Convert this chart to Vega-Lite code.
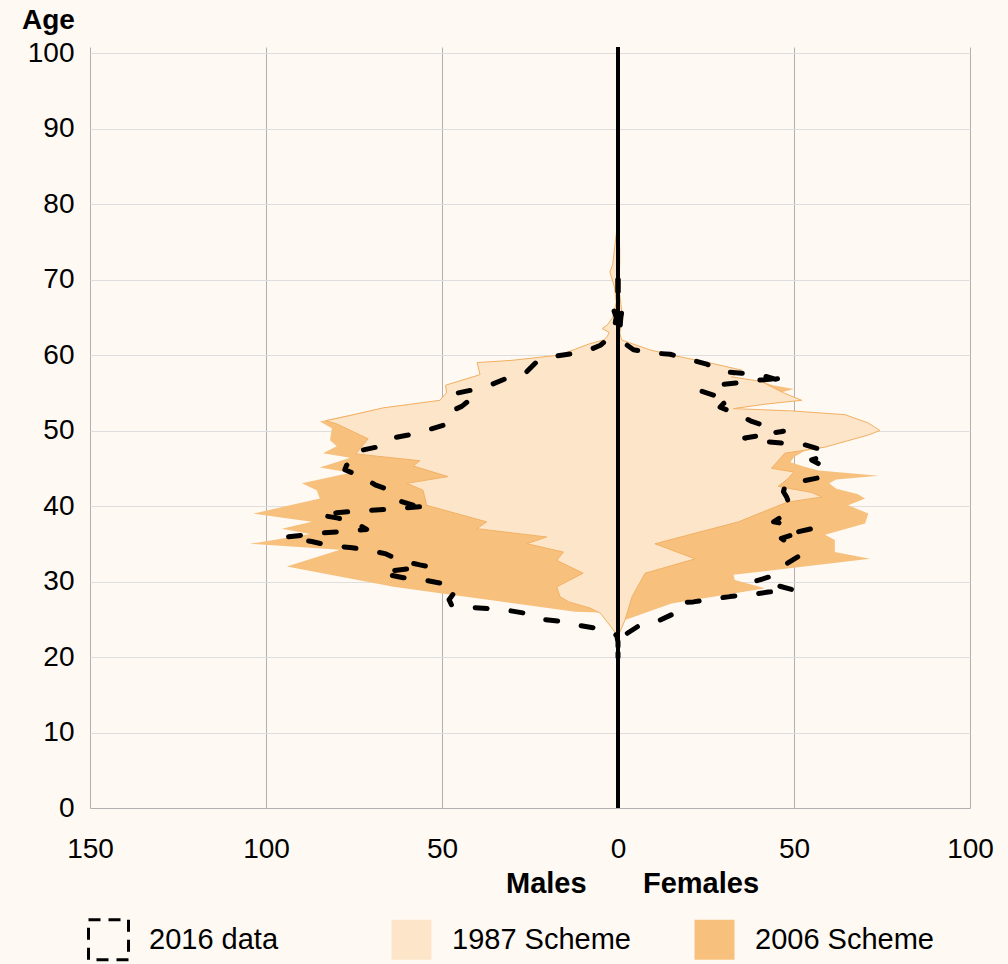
{
  "$schema": "https://vega.github.io/schema/vega-lite/v6.json",
  "width": 880,
  "height": 761,
  "autosize": "none",
  "padding": {"left": 90, "top": 47, "right": 38, "bottom": 156},
  "background": "#FEF9F3",
  "config": {
    "view": {"stroke": null},
    "font": "Liberation Sans",
    "axis": {"labelFont": "Liberation Sans", "titleFont": "Liberation Sans", "labelColor": "#000", "titleColor": "#000"},
    "axisY": {"titleAngle": 0, "titleFontWeight": "bold", "titleFontSize": 28, "titleX": -42, "titleY": -27, "titleAlign": "center", "titleBaseline": "middle", "labelFontSize": 28, "labelPadding": 16, "ticks": false, "domain": false, "gridColor": "#DEDEDE", "gridWidth": 1},
    "axisX": {"labelFlush": false, "labelOverlap": false, "labelBound": false, "labelFontSize": 28, "labelPadding": 27, "ticks": false, "domain": true, "domainColor": "#B0B0B0", "domainWidth": 1, "gridColor": "#B0B0B0", "gridWidth": 1, "titleFontSize": 29, "titleFontWeight": "bold", "titleX": 542, "titleY": 84, "titleAlign": "center", "titleBaseline": "alphabetic"},
    "legend": {"labelFont": "Liberation Sans"}
  },
  "datasets": {
    "pts": [
      {"s":"2006 Scheme","g":"M","a":78.8,"v":0},{"s":"2006 Scheme","g":"M","a":76,"v":-0.5},{"s":"2006 Scheme","g":"M","a":74,"v":-1},{"s":"2006 Scheme","g":"M","a":72,"v":-1.5},{"s":"2006 Scheme","g":"M","a":71,"v":-2.3},{"s":"2006 Scheme","g":"M","a":69,"v":-1},{"s":"2006 Scheme","g":"M","a":67,"v":-0.5},{"s":"2006 Scheme","g":"M","a":65,"v":-1.5},{"s":"2006 Scheme","g":"M","a":64,"v":-3},{"s":"2006 Scheme","g":"M","a":63.5,"v":-4.5},{"s":"2006 Scheme","g":"M","a":63,"v":-2.5},{"s":"2006 Scheme","g":"M","a":62.5,"v":-3},{"s":"2006 Scheme","g":"M","a":62,"v":-4},{"s":"2006 Scheme","g":"M","a":61.5,"v":-8},{"s":"2006 Scheme","g":"M","a":60.8,"v":-12},{"s":"2006 Scheme","g":"M","a":60,"v":-16.5},{"s":"2006 Scheme","g":"M","a":59.3,"v":-30},{"s":"2006 Scheme","g":"M","a":59,"v":-40},{"s":"2006 Scheme","g":"M","a":57.4,"v":-39.2},{"s":"2006 Scheme","g":"M","a":56,"v":-49},{"s":"2006 Scheme","g":"M","a":55,"v":-48.7},{"s":"2006 Scheme","g":"M","a":54,"v":-50.6},{"s":"2006 Scheme","g":"M","a":53,"v":-66.7},{"s":"2006 Scheme","g":"M","a":51.2,"v":-84.7},{"s":"2006 Scheme","g":"M","a":50.3,"v":-81.3},{"s":"2006 Scheme","g":"M","a":48.7,"v":-81.8},{"s":"2006 Scheme","g":"M","a":47.9,"v":-79.9},{"s":"2006 Scheme","g":"M","a":47,"v":-83.8},{"s":"2006 Scheme","g":"M","a":46.4,"v":-76.1},{"s":"2006 Scheme","g":"M","a":45.1,"v":-84.7},{"s":"2006 Scheme","g":"M","a":44.4,"v":-76},{"s":"2006 Scheme","g":"M","a":43,"v":-89.8},{"s":"2006 Scheme","g":"M","a":42.1,"v":-85.6},{"s":"2006 Scheme","g":"M","a":41,"v":-84.7},{"s":"2006 Scheme","g":"M","a":39,"v":-103.6},{"s":"2006 Scheme","g":"M","a":37.9,"v":-87},{"s":"2006 Scheme","g":"M","a":37,"v":-95.5},{"s":"2006 Scheme","g":"M","a":36.3,"v":-87.5},{"s":"2006 Scheme","g":"M","a":35,"v":-104.5},{"s":"2006 Scheme","g":"M","a":34.2,"v":-79},{"s":"2006 Scheme","g":"M","a":32,"v":-94.1},{"s":"2006 Scheme","g":"M","a":29.3,"v":-63.8},{"s":"2006 Scheme","g":"M","a":28.4,"v":-50},{"s":"2006 Scheme","g":"M","a":26,"v":-12.2},{"s":"2006 Scheme","g":"M","a":25.9,"v":-5.1},{"s":"2006 Scheme","g":"M","a":23.1,"v":0},

      {"s":"1987 Scheme","g":"M","a":78.8,"v":0},{"s":"1987 Scheme","g":"M","a":76,"v":-0.5},{"s":"1987 Scheme","g":"M","a":74,"v":-1},{"s":"1987 Scheme","g":"M","a":72,"v":-1.5},{"s":"1987 Scheme","g":"M","a":71,"v":-2.3},{"s":"1987 Scheme","g":"M","a":69,"v":-1},{"s":"1987 Scheme","g":"M","a":67,"v":-0.5},{"s":"1987 Scheme","g":"M","a":65,"v":-1.5},{"s":"1987 Scheme","g":"M","a":64,"v":-3},{"s":"1987 Scheme","g":"M","a":63.5,"v":-4.5},{"s":"1987 Scheme","g":"M","a":63,"v":-2.5},{"s":"1987 Scheme","g":"M","a":62.5,"v":-3},{"s":"1987 Scheme","g":"M","a":62,"v":-4},{"s":"1987 Scheme","g":"M","a":61.5,"v":-8},{"s":"1987 Scheme","g":"M","a":60.8,"v":-12},{"s":"1987 Scheme","g":"M","a":60,"v":-16.5},{"s":"1987 Scheme","g":"M","a":59.3,"v":-30},{"s":"1987 Scheme","g":"M","a":59,"v":-40},{"s":"1987 Scheme","g":"M","a":57.4,"v":-39.2},{"s":"1987 Scheme","g":"M","a":56,"v":-49},{"s":"1987 Scheme","g":"M","a":55,"v":-48.7},{"s":"1987 Scheme","g":"M","a":54,"v":-50.6},{"s":"1987 Scheme","g":"M","a":53,"v":-66.7},{"s":"1987 Scheme","g":"M","a":52,"v":-76},{"s":"1987 Scheme","g":"M","a":51.3,"v":-83},{"s":"1987 Scheme","g":"M","a":50.9,"v":-80},{"s":"1987 Scheme","g":"M","a":48.9,"v":-71},{"s":"1987 Scheme","g":"M","a":46.9,"v":-74.5},{"s":"1987 Scheme","g":"M","a":46,"v":-56.3},{"s":"1987 Scheme","g":"M","a":45.3,"v":-58.2},{"s":"1987 Scheme","g":"M","a":43.9,"v":-48.3},{"s":"1987 Scheme","g":"M","a":43,"v":-60},{"s":"1987 Scheme","g":"M","a":42.1,"v":-55.4},{"s":"1987 Scheme","g":"M","a":41,"v":-54.8},{"s":"1987 Scheme","g":"M","a":40.1,"v":-54.4},{"s":"1987 Scheme","g":"M","a":37.9,"v":-37.3},{"s":"1987 Scheme","g":"M","a":37,"v":-40.1},{"s":"1987 Scheme","g":"M","a":35.9,"v":-20.3},{"s":"1987 Scheme","g":"M","a":35,"v":-25.9},{"s":"1987 Scheme","g":"M","a":33.9,"v":-15.5},{"s":"1987 Scheme","g":"M","a":32.8,"v":-17.4},{"s":"1987 Scheme","g":"M","a":31.1,"v":-9.9},{"s":"1987 Scheme","g":"M","a":29.3,"v":-17.4},{"s":"1987 Scheme","g":"M","a":28,"v":-16.5},{"s":"1987 Scheme","g":"M","a":27.3,"v":-14},{"s":"1987 Scheme","g":"M","a":26.5,"v":-8},{"s":"1987 Scheme","g":"M","a":25.8,"v":-5},{"s":"1987 Scheme","g":"M","a":24,"v":-2},{"s":"1987 Scheme","g":"M","a":22.7,"v":0},

      {"s":"2006 Scheme","g":"F","a":78.8,"v":0},{"s":"2006 Scheme","g":"F","a":76,"v":0.3},{"s":"2006 Scheme","g":"F","a":74,"v":0.5},{"s":"2006 Scheme","g":"F","a":72,"v":0.5},{"s":"2006 Scheme","g":"F","a":70,"v":0.3},{"s":"2006 Scheme","g":"F","a":68,"v":0.5},{"s":"2006 Scheme","g":"F","a":66,"v":1},{"s":"2006 Scheme","g":"F","a":65,"v":1.4},{"s":"2006 Scheme","g":"F","a":64,"v":1},{"s":"2006 Scheme","g":"F","a":63,"v":0.5},{"s":"2006 Scheme","g":"F","a":62,"v":1},{"s":"2006 Scheme","g":"F","a":61.5,"v":4},{"s":"2006 Scheme","g":"F","a":60.7,"v":9},{"s":"2006 Scheme","g":"F","a":60,"v":15},{"s":"2006 Scheme","g":"F","a":59.1,"v":24.7},{"s":"2006 Scheme","g":"F","a":58,"v":35.1},{"s":"2006 Scheme","g":"F","a":57.1,"v":32.3},{"s":"2006 Scheme","g":"F","a":56.5,"v":40.8},{"s":"2006 Scheme","g":"F","a":56,"v":44},{"s":"2006 Scheme","g":"F","a":55.5,"v":50},{"s":"2006 Scheme","g":"F","a":55,"v":46},{"s":"2006 Scheme","g":"F","a":54,"v":52.2},{"s":"2006 Scheme","g":"F","a":53.5,"v":42},{"s":"2006 Scheme","g":"F","a":52.9,"v":32.8},{"s":"2006 Scheme","g":"F","a":52.6,"v":48},{"s":"2006 Scheme","g":"F","a":52.1,"v":63},{"s":"2006 Scheme","g":"F","a":51,"v":70},{"s":"2006 Scheme","g":"F","a":50,"v":73},{"s":"2006 Scheme","g":"F","a":49.4,"v":70},{"s":"2006 Scheme","g":"F","a":48.5,"v":63},{"s":"2006 Scheme","g":"F","a":47.8,"v":58.8},{"s":"2006 Scheme","g":"F","a":47.3,"v":53},{"s":"2006 Scheme","g":"F","a":46.5,"v":50},{"s":"2006 Scheme","g":"F","a":45.8,"v":49},{"s":"2006 Scheme","g":"F","a":45.2,"v":53},{"s":"2006 Scheme","g":"F","a":44.7,"v":57},{"s":"2006 Scheme","g":"F","a":44,"v":74},{"s":"2006 Scheme","g":"F","a":43.5,"v":62},{"s":"2006 Scheme","g":"F","a":43,"v":60},{"s":"2006 Scheme","g":"F","a":42.3,"v":62},{"s":"2006 Scheme","g":"F","a":41.6,"v":68},{"s":"2006 Scheme","g":"F","a":41,"v":70.2},{"s":"2006 Scheme","g":"F","a":40.1,"v":65.4},{"s":"2006 Scheme","g":"F","a":39,"v":71.1},{"s":"2006 Scheme","g":"F","a":37.7,"v":70.2},{"s":"2006 Scheme","g":"F","a":36.2,"v":58.8},{"s":"2006 Scheme","g":"F","a":35.5,"v":61.6},{"s":"2006 Scheme","g":"F","a":33.9,"v":61.6},{"s":"2006 Scheme","g":"F","a":33,"v":71.6},{"s":"2006 Scheme","g":"F","a":30.9,"v":32.8},{"s":"2006 Scheme","g":"F","a":30.2,"v":33.2},{"s":"2006 Scheme","g":"F","a":29.1,"v":41.8},{"s":"2006 Scheme","g":"F","a":27.1,"v":15.2},{"s":"2006 Scheme","g":"F","a":24.9,"v":2},{"s":"2006 Scheme","g":"F","a":22.9,"v":0},

      {"s":"1987 Scheme","g":"F","a":78.8,"v":0},{"s":"1987 Scheme","g":"F","a":76,"v":0.3},{"s":"1987 Scheme","g":"F","a":74,"v":0.5},{"s":"1987 Scheme","g":"F","a":72,"v":0.5},{"s":"1987 Scheme","g":"F","a":70,"v":0.3},{"s":"1987 Scheme","g":"F","a":68,"v":0.5},{"s":"1987 Scheme","g":"F","a":66,"v":1},{"s":"1987 Scheme","g":"F","a":65,"v":1.4},{"s":"1987 Scheme","g":"F","a":64,"v":1},{"s":"1987 Scheme","g":"F","a":63,"v":0.5},{"s":"1987 Scheme","g":"F","a":62,"v":1},{"s":"1987 Scheme","g":"F","a":61.5,"v":4},{"s":"1987 Scheme","g":"F","a":60.7,"v":9},{"s":"1987 Scheme","g":"F","a":60,"v":15},{"s":"1987 Scheme","g":"F","a":59.1,"v":24.7},{"s":"1987 Scheme","g":"F","a":58,"v":35.1},{"s":"1987 Scheme","g":"F","a":57.1,"v":32.3},{"s":"1987 Scheme","g":"F","a":56.5,"v":40.8},{"s":"1987 Scheme","g":"F","a":56,"v":42.7},{"s":"1987 Scheme","g":"F","a":55,"v":47},{"s":"1987 Scheme","g":"F","a":54,"v":52.2},{"s":"1987 Scheme","g":"F","a":53.5,"v":42},{"s":"1987 Scheme","g":"F","a":52.9,"v":32.8},{"s":"1987 Scheme","g":"F","a":52.6,"v":49.3},{"s":"1987 Scheme","g":"F","a":52.1,"v":64.5},{"s":"1987 Scheme","g":"F","a":51,"v":71.1},{"s":"1987 Scheme","g":"F","a":50,"v":74.4},{"s":"1987 Scheme","g":"F","a":49.4,"v":71.1},{"s":"1987 Scheme","g":"F","a":47.8,"v":58.8},{"s":"1987 Scheme","g":"F","a":47,"v":47.4},{"s":"1987 Scheme","g":"F","a":45,"v":43.6},{"s":"1987 Scheme","g":"F","a":44.5,"v":50},{"s":"1987 Scheme","g":"F","a":43.5,"v":48},{"s":"1987 Scheme","g":"F","a":42.6,"v":45.5},{"s":"1987 Scheme","g":"F","a":41.8,"v":55},{"s":"1987 Scheme","g":"F","a":41.2,"v":57.9},{"s":"1987 Scheme","g":"F","a":40.5,"v":48},{"s":"1987 Scheme","g":"F","a":37.9,"v":34.2},{"s":"1987 Scheme","g":"F","a":35,"v":10.5},{"s":"1987 Scheme","g":"F","a":33,"v":21.9},{"s":"1987 Scheme","g":"F","a":31.1,"v":7.7},{"s":"1987 Scheme","g":"F","a":28,"v":4},{"s":"1987 Scheme","g":"F","a":24.9,"v":2},{"s":"1987 Scheme","g":"F","a":22.7,"v":0}
    ],
    "d2016": [
      {"g":"M","i":1,"a":70,"v":0},{"g":"M","i":2,"a":68,"v":0},{"g":"M","i":3,"a":67.5,"v":-1},{"g":"M","i":4,"a":66.9,"v":-2.3},{"g":"M","i":5,"a":66.2,"v":-1.4},{"g":"M","i":6,"a":65,"v":-0.5},{"g":"M","i":7,"a":63.7,"v":-1},{"g":"M","i":8,"a":62.5,"v":-2},{"g":"M","i":9,"a":62,"v":-3.2},{"g":"M","i":10,"a":61.3,"v":-5},{"g":"M","i":11,"a":60.7,"v":-8},{"g":"M","i":12,"a":60.2,"v":-12.7},{"g":"M","i":13,"a":59.8,"v":-18.4},{"g":"M","i":14,"a":59.1,"v":-23.1},{"g":"M","i":15,"a":57.8,"v":-25.9},{"g":"M","i":16,"a":57.1,"v":-30.7},{"g":"M","i":17,"a":56,"v":-36.4},{"g":"M","i":18,"a":55.4,"v":-41.1},{"g":"M","i":19,"a":54.9,"v":-46.3},{"g":"M","i":20,"a":54.1,"v":-42},{"g":"M","i":21,"a":53.2,"v":-44.4},{"g":"M","i":22,"a":52.3,"v":-48.7},{"g":"M","i":23,"a":50.7,"v":-49.6},{"g":"M","i":24,"a":50.1,"v":-53.9},{"g":"M","i":25,"a":49.4,"v":-59.6},{"g":"M","i":26,"a":49,"v":-64.3},{"g":"M","i":27,"a":47.8,"v":-68.6},{"g":"M","i":28,"a":47.3,"v":-73.8},{"g":"M","i":29,"a":46.3,"v":-74.7},{"g":"M","i":30,"a":45.4,"v":-77.1},{"g":"M","i":31,"a":44.8,"v":-77.6},{"g":"M","i":32,"a":43.9,"v":-72.8},{"g":"M","i":33,"a":42.8,"v":-69},{"g":"M","i":34,"a":42.1,"v":-64.8},{"g":"M","i":35,"a":40.8,"v":-62.9},{"g":"M","i":36,"a":40.1,"v":-58.2},{"g":"M","i":37,"a":40,"v":-53.9},{"g":"M","i":38,"a":39.6,"v":-64},{"g":"M","i":39,"a":39.3,"v":-75},{"g":"M","i":40,"a":39.1,"v":-80},{"g":"M","i":41,"a":38.8,"v":-84.7},{"g":"M","i":42,"a":38.4,"v":-79.5},{"g":"M","i":43,"a":37.7,"v":-74.2},{"g":"M","i":44,"a":36.9,"v":-71.4},{"g":"M","i":45,"a":36.6,"v":-79},{"g":"M","i":46,"a":36.4,"v":-84.7},{"g":"M","i":47,"a":35.9,"v":-94.1},{"g":"M","i":48,"a":35.3,"v":-87},{"g":"M","i":49,"a":34.8,"v":-82.4},{"g":"M","i":50,"a":34.5,"v":-76.1},{"g":"M","i":51,"a":34.2,"v":-71.4},{"g":"M","i":52,"a":33.7,"v":-66.2},{"g":"M","i":53,"a":32.8,"v":-61.9},{"g":"M","i":54,"a":32.2,"v":-56.3},{"g":"M","i":55,"a":32,"v":-54},{"g":"M","i":56,"a":31.5,"v":-62.9},{"g":"M","i":57,"a":31.1,"v":-67.1},{"g":"M","i":58,"a":30.5,"v":-61},{"g":"M","i":59,"a":30.3,"v":-56.3},{"g":"M","i":60,"a":29.8,"v":-50.6},{"g":"M","i":61,"a":28.9,"v":-45.9},{"g":"M","i":62,"a":27.6,"v":-48},{"g":"M","i":63,"a":26.9,"v":-47.3},{"g":"M","i":64,"a":26.6,"v":-42.5},{"g":"M","i":65,"a":26.4,"v":-36.8},{"g":"M","i":66,"a":26.2,"v":-31.6},{"g":"M","i":67,"a":25.8,"v":-26.4},{"g":"M","i":68,"a":25,"v":-21.7},{"g":"M","i":69,"a":24.7,"v":-16},{"g":"M","i":70,"a":24.2,"v":-11.3},{"g":"M","i":71,"a":23.8,"v":-6},{"g":"M","i":72,"a":22.9,"v":-0.4},{"g":"M","i":73,"a":22,"v":0},{"g":"M","i":74,"a":20,"v":0},

      {"g":"F","i":1,"a":70,"v":0},{"g":"F","i":2,"a":68,"v":0},{"g":"F","i":3,"a":67.3,"v":1.5},{"g":"F","i":4,"a":66.5,"v":1.4},{"g":"F","i":5,"a":65,"v":0.8},{"g":"F","i":6,"a":63,"v":0.5},{"g":"F","i":7,"a":62,"v":0.5},{"g":"F","i":8,"a":61.5,"v":2},{"g":"F","i":9,"a":60.7,"v":4.4},{"g":"F","i":10,"a":60.3,"v":9.1},{"g":"F","i":11,"a":60.1,"v":14.8},{"g":"F","i":12,"a":59.5,"v":19.5},{"g":"F","i":13,"a":58.8,"v":25.2},{"g":"F","i":14,"a":57.8,"v":29.4},{"g":"F","i":15,"a":57.6,"v":35.1},{"g":"F","i":16,"a":57.4,"v":40.3},{"g":"F","i":17,"a":56.8,"v":44.6},{"g":"F","i":18,"a":57,"v":47.9},{"g":"F","i":19,"a":56.6,"v":38.4},{"g":"F","i":20,"a":56.3,"v":33.7},{"g":"F","i":21,"a":56,"v":27.6},{"g":"F","i":22,"a":55.2,"v":23.8},{"g":"F","i":23,"a":54.7,"v":27.1},{"g":"F","i":24,"a":54,"v":31.8},{"g":"F","i":25,"a":53.6,"v":30},{"g":"F","i":26,"a":53.1,"v":29},{"g":"F","i":27,"a":52.3,"v":33.2},{"g":"F","i":28,"a":51.2,"v":38},{"g":"F","i":29,"a":50.5,"v":42.7},{"g":"F","i":30,"a":49.6,"v":42.7},{"g":"F","i":31,"a":49.9,"v":47},{"g":"F","i":32,"a":49.4,"v":41},{"g":"F","i":33,"a":49,"v":36},{"g":"F","i":34,"a":48.5,"v":42.7},{"g":"F","i":35,"a":48.3,"v":47.9},{"g":"F","i":36,"a":48.1,"v":53.1},{"g":"F","i":37,"a":47.4,"v":58.3},{"g":"F","i":38,"a":46.8,"v":59.3},{"g":"F","i":39,"a":46.1,"v":55},{"g":"F","i":40,"a":45.6,"v":57},{"g":"F","i":41,"a":45.2,"v":58.3},{"g":"F","i":42,"a":43.9,"v":58.8},{"g":"F","i":43,"a":43.2,"v":51.2},{"g":"F","i":44,"a":42.6,"v":47.4},{"g":"F","i":45,"a":41.9,"v":47},{"g":"F","i":46,"a":41.2,"v":47.9},{"g":"F","i":47,"a":39.9,"v":48.9},{"g":"F","i":48,"a":39,"v":47.9},{"g":"F","i":49,"a":37.9,"v":44.2},{"g":"F","i":50,"a":37.5,"v":48.9},{"g":"F","i":51,"a":36.5,"v":50.3},{"g":"F","i":52,"a":37,"v":55},{"g":"F","i":53,"a":35.7,"v":46.4},{"g":"F","i":54,"a":34.6,"v":50.3},{"g":"F","i":55,"a":33.3,"v":51.2},{"g":"F","i":56,"a":32.2,"v":47.4},{"g":"F","i":57,"a":30.7,"v":43.6},{"g":"F","i":58,"a":30.1,"v":39.4},{"g":"F","i":59,"a":29.8,"v":42},{"g":"F","i":60,"a":29.5,"v":45},{"g":"F","i":61,"a":28.9,"v":49.7},{"g":"F","i":62,"a":28.6,"v":42.7},{"g":"F","i":63,"a":28.3,"v":38},{"g":"F","i":64,"a":28,"v":31.8},{"g":"F","i":65,"a":27.7,"v":27.1},{"g":"F","i":66,"a":27.3,"v":21.4},{"g":"F","i":67,"a":27.2,"v":16.7},{"g":"F","i":68,"a":26.4,"v":16},{"g":"F","i":69,"a":25.6,"v":15.2},{"g":"F","i":70,"a":24.8,"v":11.5},{"g":"F","i":71,"a":24.1,"v":5.8},{"g":"F","i":72,"a":22.8,"v":1.5},{"g":"F","i":73,"a":22,"v":0},{"g":"F","i":74,"a":20,"v":0}
    ]
  },
  "layer": [
    {
      "data": {"name": "pts"},
      "transform": [{"filter": "datum.s == '2006 Scheme'"}],
      "mark": {"type": "area", "orient": "horizontal"},
      "encoding": {
        "y": {"field": "a", "type": "quantitative", "scale": {"domain": [0, 100.8], "nice": false, "zero": false}, "axis": {"title": "Age", "values": [0,10,20,30,40,50,60,70,80,90,100]}},
        "x": {"field": "v", "type": "quantitative", "stack": null, "scale": {"domain": [-150, 100], "nice": false, "zero": false}, "axis": {"title": "Males\u00a0\u00a0\u00a0\u00a0\u00a0\u00a0\u00a0Females", "values": [-150,-100,-50,0,50,100], "labelExpr": "format(abs(datum.value), 'd')"}},
        "x2": {"datum": 0},
        "detail": {"field": "g"},
        "color": {"field": "s", "type": "nominal",
          "scale": {"domain": ["2016 data", "1987 Scheme", "2006 Scheme"], "range": ["#FEF9F3", "#FDE5C9", "#F7C17D"]},
          "legend": {"title": null, "orient": "none", "legendX": -3, "legendY": 871, "direction": "horizontal", "columns": 3, "columnPadding": 57, "gridAlign": "all", "padding": 0,
            "symbolType": "square", "symbolSize": 1600, "symbolOpacity": 1, "labelFontSize": 29, "labelOffset": 19, "labelLimit": 400, "labelColor": "#000",
            "encode": {"symbols": {"update": {
              "stroke": {"signal": "datum.label == '2016 data' ? '#000' : 'transparent'"},
              "strokeWidth": {"value": 3},
              "strokeDash": {"signal": "datum.label == '2016 data' ? [12, 8] : [1, 0]"}
            }}}}
        }
      }
    },
    {
      "data": {"name": "pts"},
      "transform": [{"filter": "datum.s == '1987 Scheme'"}],
      "mark": {"type": "area", "orient": "horizontal", "stroke": "#F2B165", "strokeWidth": 1},
      "encoding": {
        "y": {"field": "a", "type": "quantitative", "scale": {"domain": [0, 100.8], "nice": false, "zero": false}, "axis": {"title": "Age", "values": [0,10,20,30,40,50,60,70,80,90,100]}},
        "x": {"field": "v", "type": "quantitative", "stack": null, "scale": {"domain": [-150, 100], "nice": false, "zero": false}, "axis": {"title": "Males\u00a0\u00a0\u00a0\u00a0\u00a0\u00a0\u00a0Females", "values": [-150,-100,-50,0,50,100], "labelExpr": "format(abs(datum.value), 'd')"}},
        "x2": {"datum": 0},
        "detail": {"field": "g"},
        "color": {"field": "s", "type": "nominal", "scale": {"domain": ["2016 data", "1987 Scheme", "2006 Scheme"], "range": ["#FEF9F3", "#FDE5C9", "#F7C17D"]}, "legend": null}
      }
    },
    {
      "data": {"values": [{}]},
      "mark": {"type": "rule", "color": "#000", "strokeWidth": 4},
      "encoding": {
        "x": {"datum": 0, "type": "quantitative", "scale": {"domain": [-150, 100], "nice": false, "zero": false}, "axis": {"title": "Males\u00a0\u00a0\u00a0\u00a0\u00a0\u00a0\u00a0Females", "values": [-150,-100,-50,0,50,100], "labelExpr": "format(abs(datum.value), 'd')"}}
      }
    },
    {
      "data": {"name": "d2016"},
      "mark": {"type": "line", "color": "#000", "strokeWidth": 5, "strokeDash": [12, 24], "strokeCap": "round", "strokeJoin": "round"},
      "encoding": {
        "y": {"field": "a", "type": "quantitative", "scale": {"domain": [0, 100.8], "nice": false, "zero": false}, "axis": {"title": "Age", "values": [0,10,20,30,40,50,60,70,80,90,100]}},
        "x": {"field": "v", "type": "quantitative", "scale": {"domain": [-150, 100], "nice": false, "zero": false}, "axis": {"title": "Males\u00a0\u00a0\u00a0\u00a0\u00a0\u00a0\u00a0Females", "values": [-150,-100,-50,0,50,100], "labelExpr": "format(abs(datum.value), 'd')"}},
        "detail": {"field": "g"},
        "order": {"field": "i", "type": "quantitative"}
      }
    }
  ]
}
